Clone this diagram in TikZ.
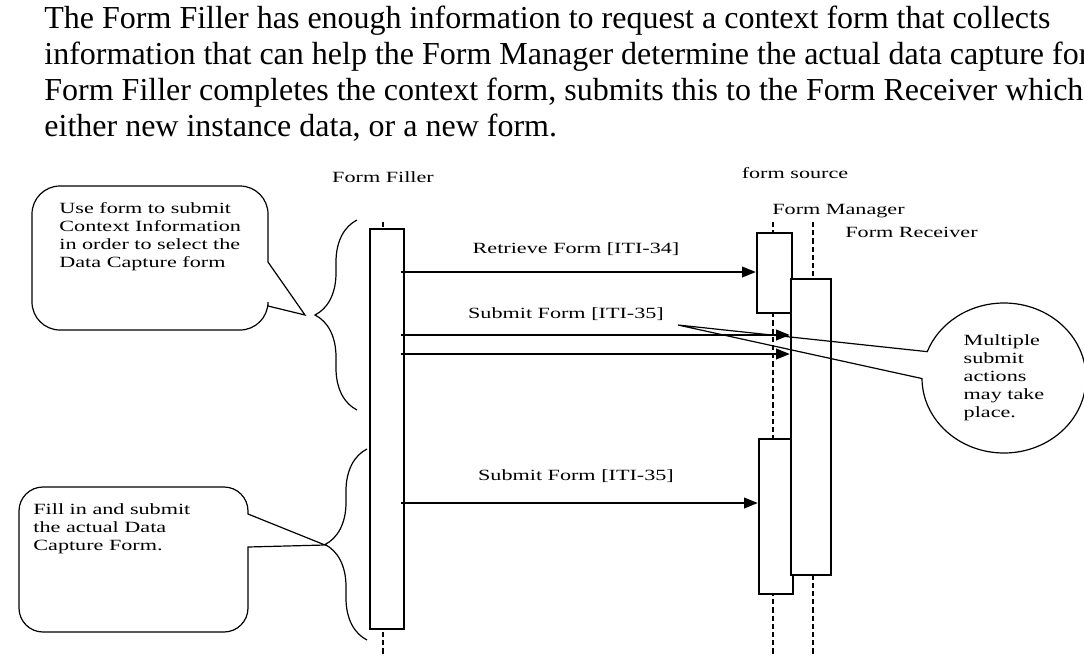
\documentclass[tikz,border=0pt]{standalone}
\usepackage{fontspec}
\setmainfont{Liberation Serif}
\newfontfamily\wideserif[FakeStretch=1.42]{Liberation Serif}
\usetikzlibrary{arrows.meta,positioning,shapes.callouts,decorations.pathreplacing}
\newcommand\diagfont{\wideserif\fontsize{7.8}{8}\selectfont}
\tikzset{
  para/.style={anchor=base west, inner sep=0pt, align=left, font=\fontsize{16}{18}\selectfont},
  lbl/.style={inner sep=0pt, font=\diagfont},
  bar/.style={draw, fill=white, line width=0.8pt, inner sep=0pt, anchor=north west},
  life/.style={line width=1.45pt, dash pattern=on 2.6pt off 1.5pt},
  msg/.style={-{Triangle[length=7pt,width=5.2pt]}, line width=1.3pt},
  bubble/.style={draw, line width=0.6pt},
  curly/.style={decorate, decoration={brace, amplitude=21pt}, line width=0.6pt},
}

\begin{document}
\begin{tikzpicture}[x=0.5pt, y=-0.5pt,
    notetext/.style={lbl, anchor=base west, align=left}]
  \fill[white] (0,0) rectangle (1084,655);
  \useasboundingbox (0,0) rectangle (1084,655);
  \clip (0,0) rectangle (1084,655);

  % text above the diagram (base = last line)
  \node[para] (intro) at (44,136) {The Form Filler has enough information to request a context form that collects\\
    information that can help the Form Manager determine the actual data capture for\\
    Form Filler completes the context form, submits this to the Form Receiver which\\
    either new instance data, or a new form.};

  % actor names
  \node[lbl, anchor=base] (filler) at (383,182) {Form Filler};
  \node[lbl, anchor=base] (source) at (795,178) {form source};
  \node[lbl, anchor=base west] (manager) at (772,214) {Form Manager};
  \node[lbl, anchor=base west] (receiver) at (845,237) {Form Receiver};

  % lifelines
  \coordinate (fftop) at (383,222);
  \coordinate (ffend) at (383,660);
  \coordinate (fmtop) at (773,222);
  \coordinate (fmend) at (773,660);
  \coordinate (frtop) at (813,222);
  \coordinate (frend) at (813,660);
  \draw[life] (fftop) -- (ffend);
  \draw[life] (fmtop) -- (fmend);
  \draw[life] (frtop) -- (frend);

  % activation bars
  \node[bar, minimum width=17pt, minimum height=200pt] (ffbar) at (369,228) {};
  \node[bar, minimum width=17.5pt, minimum height=40pt] (fmbar1) at (756,232) {};
  \node[bar, minimum width=17pt, minimum height=77.5pt] (fmbar2) at (758,438) {};
  \node[bar, minimum width=20pt, minimum height=148pt] (frbar) at (790,278) {};

  % messages
  \coordinate (m1) at (0,272);
  \coordinate (m2) at (0,335);
  \coordinate (m3) at (0,354);
  \coordinate (m4) at (0,503);
  \draw[msg] ([xshift=-2pt]ffbar.east |- m1) -- (fmbar1.west |- m1);
  \draw[msg] ([xshift=-2pt]ffbar.east |- m2) -- (frbar.west |- m2);
  \draw[msg] ([xshift=-2pt]ffbar.east |- m3) -- (frbar.west |- m3);
  \draw[msg] ([xshift=-2pt]ffbar.east |- m4) -- (fmbar2.west |- m4);
  \node[lbl, anchor=base] (lretr) at (576,253) {Retrieve Form [ITI-34]};
  \node[lbl, anchor=base] (lsub1) at (566,318) {Submit Form [ITI-35]};
  \node[lbl, anchor=base] (lsub2) at (576,480) {Submit Form [ITI-35]};

  % braces along the filler bar
  \coordinate (br1a) at (357,220);
  \coordinate (br1b) at (357,410);
  \coordinate (br2a) at (367,449);
  \coordinate (br2b) at (367,640);
  \draw[curly] (br1b) -- (br1a);
  \draw[curly] (br2b) -- (br2a);
  \coordinate (tip1) at (305,315);
  \coordinate (tip2) at (325,545);
  \coordinate (tip3) at (678,325);

  % notes
  \draw[bubble] (32,258) [rounded corners=14pt] |- (268,186) [sharp corners] -- (268,262)
    -- (tip1) -- (268,306) [rounded corners=14pt] |- (32,330) -- cycle;
  \node[notetext, font=\wideserif\fontsize{7.8}{9}\selectfont] (note1) at (59,267)
    {Use form to submit\\Context Information\\in order to select the\\Data Capture form};
  \draw[bubble] (19,560) [rounded corners=12pt] |- (248,487) [sharp corners] -- (248,514)
    -- (tip2) -- (248,547) [rounded corners=12pt] |- (19,632) -- cycle;
  \node[notetext, font=\wideserif\fontsize{7.8}{9}\selectfont] (note2) at (33,550)
    {Fill in and submit\\the actual Data\\Capture Form.};
  \node[ellipse callout, bubble, minimum width=82pt, minimum height=75pt, inner sep=0pt,
        callout absolute pointer={(tip3)}, callout pointer arc=21, align=left,
        font=\wideserif\fontsize{7.8}{9}\selectfont] (note3) at (1004,378)
    {Multiple\\submit\\actions\\may take\\place.};
\end{tikzpicture}
\end{document}
